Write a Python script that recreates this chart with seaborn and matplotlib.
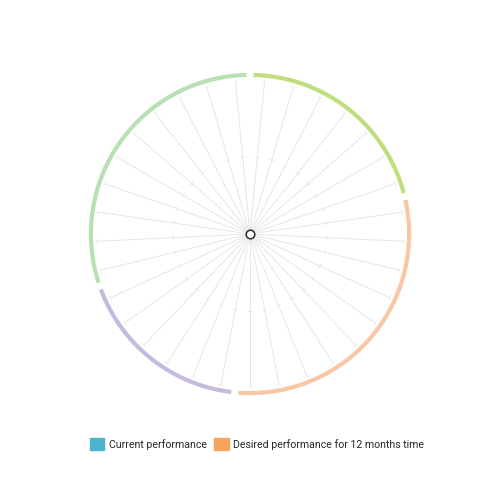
import numpy as np
import pandas as pd
import matplotlib
matplotlib.use("Agg")
import matplotlib.pyplot as plt
import seaborn as sns
from matplotlib.patches import Patch

# ---- data ----
categories = [f"Item {i + 1}" for i in range(33)]
group_names = ["Group 1", "Group 2", "Group 3", "Group 4"]
group_sizes = [7, 10, 6, 10]
group_colors = ["#c0de7e", "#f9c6a6", "#c6bbdf", "#b9dfb4"]
current = [0, 0, 0, 0, 0, 0, 0, 0, 0, 0, 0, 0, 0, 0, 0, 0, 0,
           0, 0, 0, 0, 0, 0, 0, 0, 0, 0, 0, 0, 0, 0, 0, 0]
desired = [0, 0, 0, 0, 0, 0, 0, 0, 0, 0, 0, 0, 0, 0, 0, 0, 0,
           0, 0, 0, 0, 0, 0, 0, 0, 0, 0, 0, 0, 0, 0, 0, 0]
series_names = ["Current performance", "Desired performance for 12 months time"]
series_colors = ["#4cb3cb", "#f7a55d"]

sns.set_theme(style="white")
plt.rcParams["font.family"] = ["Roboto", "DejaVu Sans"]

n = len(categories)
step = 2 * np.pi / n
theta = (np.arange(n) + 0.5) * step

fig = plt.figure(figsize=(5, 5), dpi=100)
fig.patch.set_facecolor("white")
R_PX = 154.0
w = 2 * R_PX / 500
cx, cy = 0.5, 1 - 234 / 500
ax = fig.add_axes([cx - w / 2, cy - w / 2, w, w], projection="polar")
ax.set_theta_zero_location("N")
ax.set_theta_direction(-1)
ax.set_ylim(0, 1)
ax.set_xticks([])
ax.set_yticks([])
ax.grid(False)
ax.spines["polar"].set_visible(False)
ax.set_facecolor("none")

spoke_color = "#e6e6e6"
# spokes
ax.vlines(theta, 0, 1, color=spoke_color, lw=0.7, zorder=1)
# caps at end and mid ticks
for t in theta:
    for rr, half in [(1.0, 3.0), (0.5, 2.0)]:
        d = half / (rr * R_PX)
        ax.plot([t - d, t + d], [rr, rr], color=spoke_color, lw=0.7, zorder=1)

# group arcs
gap = np.deg2rad(1.3)
start = 0
for size, col in zip(group_sizes, group_colors):
    t0 = start * step + gap
    t1 = (start + size) * step - gap
    tt = np.linspace(t0, t1, 200)
    ax.plot(tt, np.full_like(tt, 1.033), color=col, lw=3.0,
            solid_capstyle="butt", clip_on=False, zorder=3)
    start += size

# data series (all zero -> at centre)
df = pd.DataFrame({"theta": np.concatenate([theta, theta]),
                   "value": current + desired,
                   "series": [series_names[0]] * n + [series_names[1]] * n})
sns.lineplot(data=df, x="theta", y="value", hue="series",
             palette=series_colors, ax=ax, legend=False, lw=1.5, zorder=4)
sns.scatterplot(x=[theta[0]], y=[desired[0]], ax=ax, s=38,
                facecolor="white", edgecolor="#2b2b2b", linewidth=1.1,
                legend=False, zorder=5, clip_on=False)
ax.set_xlabel("")
ax.set_ylabel("")
ax.set_ylim(0, 1)

handles = [Patch(facecolor=c, edgecolor=c) for c in series_colors]
fig.legend(handles, series_names, loc="center", bbox_to_anchor=(0.514, 1 - 444 / 500),
           ncol=2, frameon=False, fontsize=7.6, handlelength=1.4, handleheight=1.4,
           handletextpad=0.4, columnspacing=0.75, borderpad=0.2)

fig.savefig("out.png", dpi=100, facecolor="white")
